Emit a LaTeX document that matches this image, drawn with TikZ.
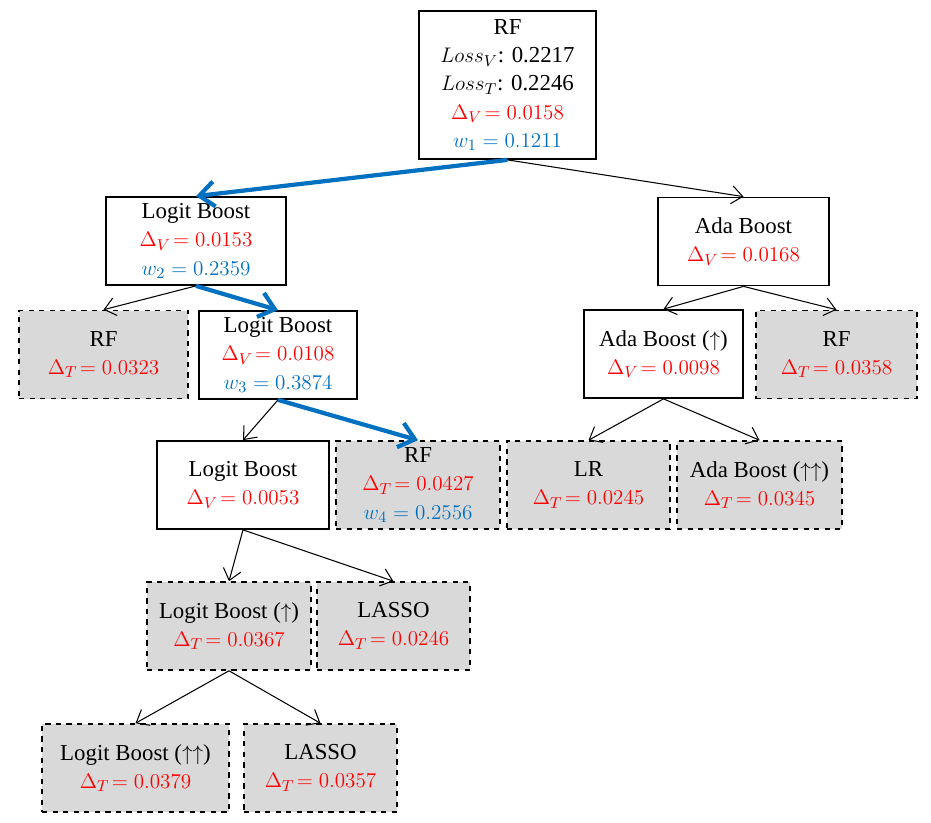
\documentclass[tikz,border=0pt]{standalone}
\usepackage{amsmath,amssymb}
\usepackage{fontspec}
\setmainfont{Liberation Serif}
\usepackage{xcolor}
\usepackage{tikz}
\usetikzlibrary{arrows.meta}

\definecolor{pathblue}{RGB}{0,112,192}
\definecolor{leafgray}{RGB}{217,217,217}
\newcommand{\dv}[1]{\textcolor{red}{$\Delta_V\!= #1$}}
\newcommand{\dt}[1]{\textcolor{red}{$\Delta_T\!= #1$}}
\newcommand{\wt}[2]{\textcolor{pathblue}{$w_{#1} = #2$}}

\begin{document}
\begin{tikzpicture}[
    font=\fontsize{13}{16}\selectfont,
    model/.style={draw, line width=1pt, fill=white, align=center,
                  inner sep=1pt, minimum height=1.76cm},
    leaf/.style={model, fill=leafgray, dashed, line width=0.9pt},
    edge/.style={-{Straight Barb[length=2.2mm,width=3.6mm]}, line width=0.6pt},
    best/.style={-{Straight Barb[length=3mm,width=5mm]}, draw=pathblue, line width=2.4pt}
]
\useasboundingbox (0,0) rectangle (18.62,-16.44);

% --- Level 0: root ---
\node[model, minimum width=3.54cm, minimum height=2.96cm] (root) at (10.15,-1.70)
  {RF\\ $Loss_V$: 0.2217\\ $Loss_T$: 0.2246\\ \dv{0.0158}\\ \wt{1}{0.1211}};

% --- Level 1 ---
\node[model, minimum width=3.60cm] (lb1) at (3.92,-4.82)
  {Logit Boost\\ \dv{0.0153}\\ \wt{2}{0.2359}};
\node[model, minimum width=3.42cm] (ada1) at (14.87,-4.83)
  {Ada Boost\\ \dv{0.0168}};

% --- Level 2 ---
\node[leaf,  minimum width=3.38cm] (rfA) at (2.07,-7.09)
  {RF\\ \dt{0.0323}};
\node[model, minimum width=3.16cm] (lb2) at (5.56,-7.10)
  {Logit Boost\\ \dv{0.0108}\\ \wt{3}{0.3874}};
\node[model, minimum width=3.18cm] (ada2) at (13.27,-7.08)
  {Ada Boost ($\uparrow$)\\ \dv{0.0098}};
\node[leaf,  minimum width=3.22cm] (rfB) at (16.73,-7.09)
  {RF\\ \dt{0.0358}};

% --- Level 3 ---
\node[model, minimum width=3.44cm] (lb3) at (4.86,-9.70)
  {Logit Boost\\ \dv{0.0053}};
\node[leaf,  minimum width=3.28cm] (rfC) at (8.36,-9.70)
  {RF\\ \dt{0.0427}\\ \wt{4}{0.2556}};
\node[leaf,  minimum width=3.26cm] (lr) at (11.77,-9.70)
  {LR\\ \dt{0.0245}};
\node[leaf,  minimum width=3.30cm] (ada3) at (15.19,-9.70)
  {Ada Boost ($\uparrow\uparrow$)\\ \dt{0.0345}};

% --- Level 4 ---
\node[leaf, minimum width=3.28cm] (lb4) at (4.58,-12.52)
  {Logit Boost ($\uparrow$)\\ \dt{0.0367}};
\node[leaf, minimum width=3.06cm] (lasso1) at (7.87,-12.52)
  {LASSO\\ \dt{0.0246}};

% --- Level 5 ---
\node[leaf, minimum width=3.74cm] (lb5) at (2.71,-15.36)
  {Logit Boost ($\uparrow\uparrow$)\\ \dt{0.0379}};
\node[leaf, minimum width=3.06cm] (lasso2) at (6.41,-15.36)
  {LASSO\\ \dt{0.0357}};

% Tree edges
\draw[edge] (root.south) -- (ada1.north);
\draw[edge] (lb1.south) -- (rfA.north);
\draw[edge] (ada1.south) -- (ada2.north);
\draw[edge] (ada1.south) -- (rfB.north);
\draw[edge] (lb2.south) -- (lb3.north);
\draw[edge] (ada2.south) -- (lr.north);
\draw[edge] (ada2.south) -- (ada3.north);
\draw[edge] (lb3.south) -- (lb4.north);
\draw[edge] (lb3.south) -- (lasso1.north);
\draw[edge] (lb4.south) -- (lb5.north);
\draw[edge] (lb4.south) -- (lasso2.north);

% Selected path
\draw[best] (root.south) -- (lb1.north);
\draw[best] (lb1.south) -- (lb2.north);
\draw[best] (lb2.south) -- (rfC.north);

\end{tikzpicture}
\end{document}
